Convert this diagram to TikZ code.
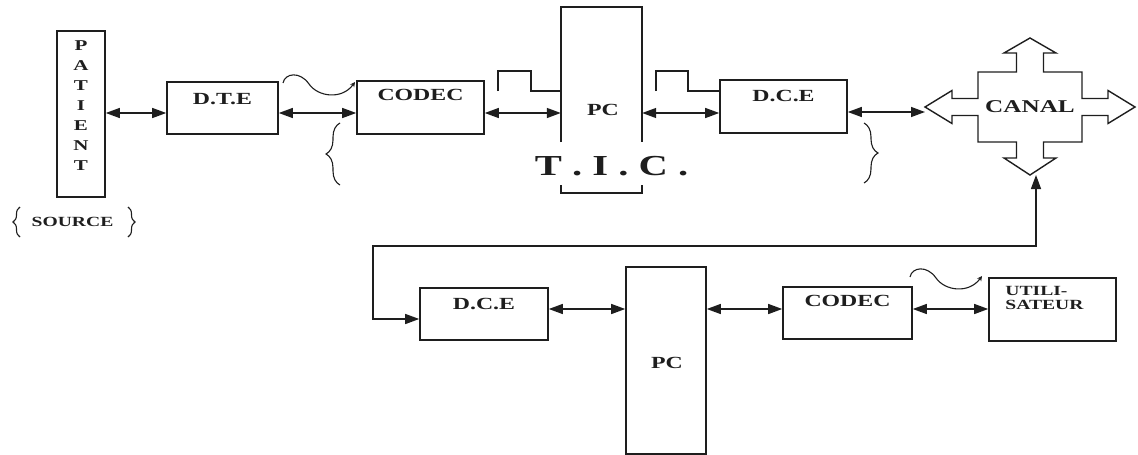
\documentclass[tikz,border=0pt]{standalone}
\usepackage{fontspec}
\setmainfont{Liberation Serif}[FakeStretch=1.4]
\usetikzlibrary{arrows.meta, positioning, decorations.pathreplacing, calc}
\definecolor{inkgray}{RGB}{30,30,30}
\tikzset{
  block/.style={rectangle, draw=inkgray, line width=1.6pt, inner sep=0pt},
  wall/.style={draw=inkgray, line width=1.6pt},
  txt/.style={inner sep=0pt, text=inkgray, font=\fontsize{17}{18}\selectfont\bfseries},
  blocktext/.style={txt, anchor=north},
  smalltext/.style={txt, font=\fontsize{14}{14}\selectfont\bfseries},
  link/.style={{Triangle[length=14pt,width=10pt]}-{Triangle[length=14pt,width=10pt]},
    line width=1.4pt, draw=inkgray},
  wave/.style={-{Stealth[length=5pt,width=5pt]}, line width=1.1pt, draw=inkgray},
  curly/.style={decorate, decoration={brace, amplitude=#1, aspect=0.5},
    line width=1.1pt, draw=inkgray},
  sinewave/.pic={
    \draw[wave] (0,0) .. controls (2,-10) and (17,-12) .. (26,1)
      .. controls (35,14) and (59,17) .. (72,-1);
  },
}
\begin{document}
\begin{tikzpicture}[x=1pt, y=-1pt]
  \useasboundingbox (0,0) rectangle (1138,455);
  \coordinate (toprow) at (0,113);
  \coordinate (botrow) at (0,309);
  % emitting side
  \node[block, minimum width=48, minimum height=166,
    label={[smalltext, anchor=north, align=center, yshift=-10,
      font=\fontsize{15}{20}\selectfont\bfseries]north:P\\A\\T\\I\\E\\N\\T}]
    (patient) at (81,114) {};
  \node[smalltext] (source) at (72.5,222) {SOURCE};
  \draw[curly=7] (20,237) -- (20,207);
  \draw[curly=7] (128,207) -- (128,237);
  \node[block, minimum width=111, minimum height=52,
    label={[blocktext, yshift=-12]north:D.T.E}] (dte) at (222.5,108) {};
  \node[block, minimum width=127, minimum height=53,
    label={[blocktext, yshift=-9]north:CODEC}] (codec1) at (420.5,107.5) {};
  \node[minimum width=81, minimum height=135, inner sep=0pt] (pc1) at (601.5,74.5) {};
  \draw[wall] (pc1.south west) -- (pc1.north west) -- (pc1.north east) -- (pc1.south east);
  \node[txt] at (603,110) {PC};
  \node[block, minimum width=127, minimum height=53,
    label={[blocktext, yshift=-11]north:D.C.E}] (dce1) at (783.5,106.5) {};
  \node[txt, font=\fontsize{29}{30}\selectfont\bfseries] (tic) at (611.5,166) {T . I . C .};
  \draw[wall] (pc1.west |- 0,185) -- (pc1.west |- 0,193) -- (pc1.east |- 0,193) -- (pc1.east |- 0,185);
  \draw[curly=14] (340,185) -- (340,123);
  \draw[curly=14] (864,123) -- (864,183);
  % signals
  \pic at (283,83) {sinewave};
  \draw[wall, line width=1.3pt] (498,91) -- (498,71) -- (531,71) -- (531,91) -- (pc1.west |- 0,91);
  \draw[wall, line width=1.3pt] (656,91) -- (656,71) -- (688,71) -- (688,91) -- (dce1.west |- 0,91);
  % channel
  \node[txt, font=\fontsize{18}{19}\selectfont\bfseries] (canal) at (1030,107) {CANAL};
  \begin{scope}[shift={(canal)}]
    \draw[wall, line width=1.4pt] (-105,0) -- (-78,-16.5) -- (-78,-8.5) -- (-52,-8.5) -- (-52,-35)
      -- (-13.5,-35) -- (-13.5,-54) -- (-26,-54) -- (0,-69) -- (26,-54) -- (13.5,-54)
      -- (13.5,-35) -- (52,-35) -- (52,-8.5) -- (78,-8.5) -- (78,-16.5) -- (105,0)
      -- (78,16.5) -- (78,8.5) -- (52,8.5) -- (52,35) -- (13.5,35) -- (13.5,51)
      -- (26,51) -- (0,68) -- (-26,51) -- (-13.5,51) -- (-13.5,35) -- (-52,35)
      -- (-52,8.5) -- (-78,8.5) -- (-78,16.5) -- cycle;
  \end{scope}
  \coordinate (canal-w) at (925,112);
  \coordinate (canal-s) at (1036,175);
  % receiving side
  \node[block, minimum width=128, minimum height=52,
    label={[blocktext, yshift=-11]north:D.C.E}] (dce2) at (484,314) {};
  \node[block, minimum width=80, minimum height=187] (pc2) at (666,360.5) {};
  \node[txt] at (667,363) {PC};
  \node[block, minimum width=129, minimum height=52,
    label={[blocktext, yshift=-9]north:CODEC}] (codec2) at (847.5,313) {};
  \node[block, minimum width=127, minimum height=63,
    label={[smalltext, anchor=north west, align=left, xshift=17, yshift=-9]north west:UTILI-\\SATEUR}]
    (util) at (1052.5,309.5) {};
  \pic at (910,277) {sinewave};
  \coordinate (loop) at (373,246);
  % links
  \draw[link] (patient.east |- toprow) -- (dte.west |- toprow);
  \draw[link] (dte.east |- toprow) -- (codec1.west |- toprow);
  \draw[link] (codec1.east |- toprow) -- (pc1.west |- toprow);
  \draw[link] (pc1.east |- toprow) -- (dce1.west |- toprow);
  \draw[link] (dce1.east |- canal-w) -- (canal-w);
  \draw[link] (canal-s) |- (loop) |- (dce2.west |- 0,319);
  \draw[link] (dce2.east |- botrow) -- (pc2.west |- botrow);
  \draw[link] (pc2.east |- botrow) -- (codec2.west |- botrow);
  \draw[link] (codec2.east |- botrow) -- (util.west |- botrow);
\end{tikzpicture}
\end{document}
